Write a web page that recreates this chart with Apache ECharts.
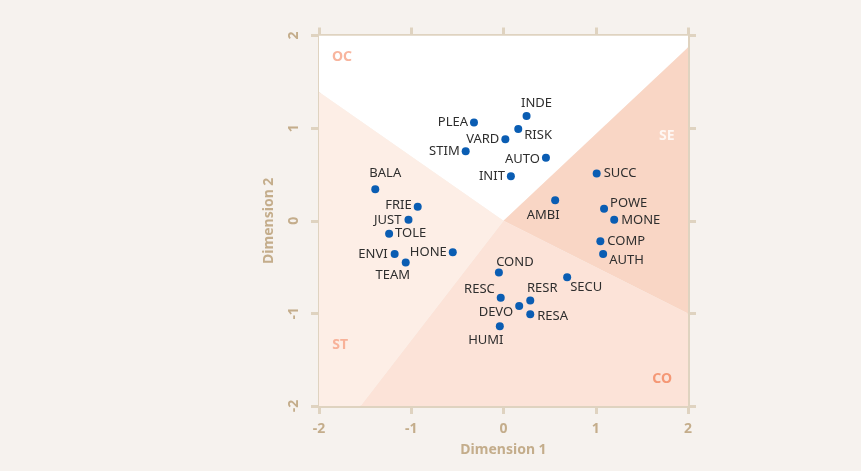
<!DOCTYPE html>
<html>
<head>
<meta charset="utf-8">
<script src="https://cdn.jsdelivr.net/npm/echarts@6/dist/echarts.min.js"></script>
<style>
html,body{margin:0;padding:0;background:#f6f2ee;}
#chart{width:861px;height:471px;}
</style>
</head>
<body>
<div id="chart"></div>
<script>
// ---- data ----
const names = ['INDE','RISK','PLEA','VARD','STIM','AUTO','INIT','SUCC','AMBI','POWE','MONE','COMP','AUTH',
  'COND','HONE','FRIE','JUST','TOLE','ENVI','TEAM','SECU','RESC','RESR','DEVO','RESA','HUMI','BALA'];
const dim1 = [0.25,0.16,-0.32,0.02,-0.41,0.46,0.08,1.01,0.56,1.09,1.20,1.05,1.08,
  -0.05,-0.55,-0.93,-1.03,-1.24,-1.18,-1.06,0.69,-0.03,0.29,0.17,0.29,-0.04,-1.39];
const dim2 = [1.13,0.99,1.06,0.88,0.75,0.68,0.48,0.51,0.22,0.13,0.01,-0.22,-0.36,
  -0.56,-0.34,0.15,0.01,-0.14,-0.36,-0.45,-0.61,-0.83,-0.86,-0.92,-1.01,-1.14,0.34];
const ticks = [-2,-1,0,1,2];
const regionNames = ['OC','SE','CO','ST'];
const regionPolys = [
  [[0,0],[-2,1.39],[-2,2],[2,2],[2,1.87]],
  [[0,0],[2,1.87],[2,-1.0]],
  [[0,0],[2,-1.0],[2,-2],[-1.55,-2]],
  [[0,0],[-1.55,-2],[-2,-2],[-2,1.39]]
];
const regionLabelX = [-1.75, 1.77, 1.72, -1.77];
const regionLabelY = [1.77, 0.92, -1.71, -1.34];

// ---- styling ----
const regionFill = {OC:'#ffffff', SE:'#f9d6c5', CO:'#fce3d8', ST:'#fdeee6'};
const regionText = {OC:'#f6a386', SE:'#ffffff', CO:'#f3845c', ST:'#f6a386'};
const labelCfg = {
  INDE:['top',2,[10,0]], RISK:['right',2,[0,6]], PLEA:['left',2,[0,0]], VARD:['left',2,[0,0]],
  STIM:['left',2,[0,0]], AUTO:['left',2,[0,2]], INIT:['left',2,[0,0]], SUCC:['right',3,[0,0]],
  AMBI:['bottom',4,[-12,0]], POWE:['right',2,[0,-5]], MONE:['right',3,[0,0]], COMP:['right',3,[0,0]],
  AUTH:['right',2,[0,6]], COND:['top',0,[16,0]], HONE:['left',2,[0,0]], FRIE:['left',2,[0,-2]],
  JUST:['left',3,[0,0]], TOLE:['right',2,[0,0]], ENVI:['left',3,[0,0]], TEAM:['bottom',2,[-13,0]],
  SECU:['right',0,[-1,10]], RESC:['left',2,[0,-8]], RESR:['top',2,[12,0]], DEVO:['left',2,[0,6]],
  RESA:['right',3,[0,2]], HUMI:['bottom',3,[-14,0]], BALA:['top',5,[10,0]]
};
const axisCol = '#dfd3c0';
const tickLabCol = '#c4ad8b';
const FONT = '"Noto Sans", "Open Sans", sans-serif';

const pointData = names.map((n,i) => {
  const c = labelCfg[n];
  return {
    value:[dim1[i], dim2[i]], name:n,
    label:{show:true, formatter:n, position:c[0], distance:c[1], offset:c[2],
      color:'#2e2e2e', fontSize:13, fontFamily:FONT}
  };
});

const baseX = {
  type:'value', min:-2, max:2, interval:1,
  axisLine:{show:true, onZero:false, lineStyle:{color:axisCol, width:3}},
  axisTick:{show:true, length:8, lineStyle:{color:axisCol, width:3}},
  splitLine:{show:false}
};

const option = {
  backgroundColor:'#f6f2ee',
  animation:false,
  grid:{left:319, right:173, top:35.5, bottom:65, containLabel:false},
  xAxis:[
    Object.assign({}, baseX, {position:'bottom',
      name:'Dimension 1', nameLocation:'middle', nameGap:37,
      nameTextStyle:{color:tickLabCol, fontSize:14, fontWeight:'bold', fontFamily:FONT},
      axisLabel:{show:true, margin:16, color:tickLabCol, fontSize:14, fontWeight:'bold', fontFamily:FONT,
        formatter:v => ticks.includes(v) ? String(v) : ''}}),
    Object.assign({}, baseX, {position:'top', axisLabel:{show:false}})
  ],
  yAxis:[
    Object.assign({}, baseX, {position:'left',
      name:'Dimension 2', nameLocation:'middle', nameGap:43, nameRotate:90,
      nameTextStyle:{color:tickLabCol, fontSize:14, fontWeight:'bold', fontFamily:FONT},
      axisLabel:{show:true, margin:18, rotate:90, color:tickLabCol, fontSize:14, fontWeight:'bold', fontFamily:FONT,
        formatter:v => ticks.includes(v) ? String(v) : ''}}),
    Object.assign({}, baseX, {position:'right', axisLabel:{show:false}})
  ],
  series:[
    {
      type:'custom', xAxisIndex:0, yAxisIndex:0, silent:true, z:1, clip:true,
      data: regionNames.map((n,i)=>[i]),
      renderItem:(params, api) => {
        const i = params.dataIndex;
        const pts = regionPolys[i].map(p => api.coord(p));
        return {type:'polygon', shape:{points:pts}, style:{fill:regionFill[regionNames[i]], stroke:null}};
      }
    },
    {
      type:'scatter', xAxisIndex:0, yAxisIndex:0, silent:true, z:2, symbolSize:0,
      data: regionNames.map((n,i)=>({value:[regionLabelX[i], regionLabelY[i]], name:n,
        label:{show:true, position:'inside', formatter:n, color:regionText[n], fontSize:14, fontWeight:'bold', fontFamily:FONT}}))
    },
    {
      type:'scatter', xAxisIndex:0, yAxisIndex:0, z:3, symbol:'circle', symbolSize:8,
      itemStyle:{color:'#0a5db3', opacity:1},
      data: pointData
    }
  ]
};
const chart = echarts.init(document.getElementById('chart'), null, {renderer:'canvas'});
chart.setOption(option);
</script>
</body>
</html>
